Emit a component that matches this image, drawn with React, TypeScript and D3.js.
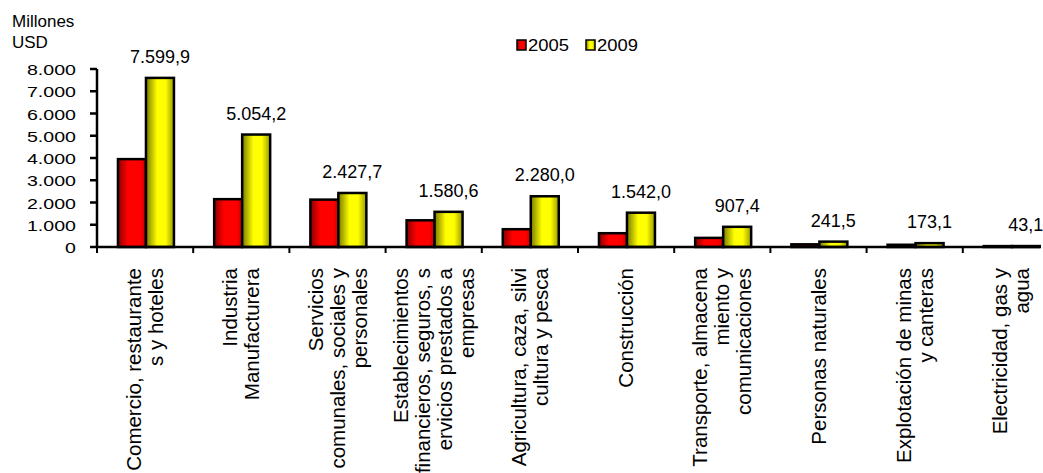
import React from "react";
import * as d3 from "d3";

const categories: string[][] = [
  ["Comercio, restaurante", "s y hoteles"],
  ["Industria", "Manufacturera"],
  ["Servicios", "comunales, sociales y", "personales"],
  ["Establecimientos", "financieros, seguros, s", "ervicios prestados a", "empresas"],
  ["Agricultura, caza, silvi", "cultura y pesca"],
  ["Construcción"],
  ["Transporte, almacena", "miento y", "comunicaciones"],
  ["Personas naturales"],
  ["Explotación de minas", "y canteras"],
  ["Electricidad, gas y", "agua"],
];
const values2005: number[] = [3950, 2150, 2130, 1200, 800, 620, 410, 120, 100, 40];
const values2009: number[] = [7599.9, 5054.2, 2427.7, 1580.6, 2280.0, 1542.0, 907.4, 241.5, 173.1, 43.1];
const seriesNames: string[] = ["2005", "2009"];
const yTicks: number[] = [0, 1000, 2000, 3000, 4000, 5000, 6000, 7000, 8000];
const yTitle: string[] = ["Millones", "USD"];

const FONT = "'Liberation Sans', Arial, sans-serif";

export default function App() {
  const W = 1043;
  const H = 473;
  const locale = d3.formatLocale({ decimal: ",", thousands: ".", grouping: [3], currency: ["", ""] });
  const fmtTick = locale.format(",.0f");
  const fmtVal = locale.format(",.1f");

  const idx = categories.map((_, i) => String(i));
  const x = d3.scaleBand<string>().domain(idx).range([97, 97 + 10 * 96.2]).padding(0);
  const step = x.step();
  const xs = d3.scaleBand<string>().domain(seriesNames).range([step * 0.218, step * 0.8]).padding(0);
  const y = d3.scaleLinear().domain([0, 8000]).range([247, 69]);

  const fills = ["url(#gradRed)", "url(#gradYel)"];
  const lineH = 22;

  return (
    <svg width={W} height={H} style={{ position: "absolute", left: 0, top: 0, background: "#fff" }} fontFamily={FONT}>
      <defs>
        <linearGradient id="gradRed" x1="0" x2="1" y1="0" y2="0">
          <stop offset="0%" stopColor="#8a0000" />
          <stop offset="35%" stopColor="#ff0000" />
          <stop offset="80%" stopColor="#ff0000" />
          <stop offset="100%" stopColor="#c80000" />
        </linearGradient>
        <linearGradient id="gradYel" x1="0" x2="1" y1="0" y2="0">
          <stop offset="0%" stopColor="#7a7a00" />
          <stop offset="40%" stopColor="#ffff00" />
          <stop offset="70%" stopColor="#ffff00" />
          <stop offset="100%" stopColor="#9a9a00" />
        </linearGradient>
      </defs>
      <rect x={0} y={0} width={W} height={H} fill="#fff" />

      {/* y title */}
      {yTitle.map((t, i) => (
        <text key={t} x={12} y={27 + i * 21} fontSize={17} fill="#000">{t}</text>
      ))}

      {/* legend */}
      {seriesNames.map((s, i) => {
        const lx = 517 + i * 69;
        return (
          <g key={s}>
            <rect x={lx} y={40} width={9} height={10} fill={fills[i]} stroke="#000" strokeWidth={1.5} />
            <text transform={`translate(${lx + 11},51) scale(1.15,1)`} fontSize={16} fill="#000">{s}</text>
          </g>
        );
      })}

      {/* bars */}
      {categories.map((_, i) => {
        const bx = x(String(i))!;
        return [values2005[i], values2009[i]].map((v, j) => (
          <rect
            key={`${i}-${j}`}
            x={bx + xs(seriesNames[j])!}
            y={y(v)}
            width={xs.bandwidth()}
            height={Math.max(0, y(0) - y(v))}
            fill={fills[j]}
            stroke="#000"
            strokeWidth={2.5}
          />
        ));
      })}

      {/* data labels 2009 */}
      {values2009.map((v, i) => (
        <text
          key={`lab${i}`}
          x={x(String(i))! + xs("2009")! + xs.bandwidth() / 2}
          y={y(v) - 15}
          textAnchor="middle"
          fontSize={18}
          fill="#000"
        >
          {fmtVal(v)}
        </text>
      ))}

      {/* y axis */}
      <line x1={97} x2={97} y1={y(8000)} y2={y(0)} stroke="#000" strokeWidth={2.5} />
      {yTicks.map((t) => (
        <g key={`yt${t}`}>
          <line x1={90} x2={97} y1={y(t)} y2={y(t)} stroke="#000" strokeWidth={2.5} />
          <text transform={`translate(76,${y(t) + 6}) scale(1.4,1)`} textAnchor="end" fontSize={14} fill="#000">
            {fmtTick(t)}
          </text>
        </g>
      ))}

      {/* x axis */}
      <line x1={97} x2={1040} y1={y(0)} y2={y(0)} stroke="#000" strokeWidth={2.5} />
      {idx.map((k) => (
        <line key={`xt${k}`} x1={x(k)!} x2={x(k)!} y1={y(0)} y2={y(0) + 6} stroke="#000" strokeWidth={2} />
      ))}

      {/* category labels */}
      {categories.map((lines, i) => {
        const c = x(String(i))! + step / 2;
        const n = lines.length;
        return lines.map((ln, k) => {
          const lx = c + (k - (n - 1) / 2) * lineH;
          return (
            <text
              key={`cl${i}-${k}`}
              transform={`translate(${lx},268) rotate(-90)`}
              dy="0.35em"
              textAnchor="end"
              fontSize={20.5}
              fill="#000"
            >
              {ln}
            </text>
          );
        });
      })}
    </svg>
  );
}
